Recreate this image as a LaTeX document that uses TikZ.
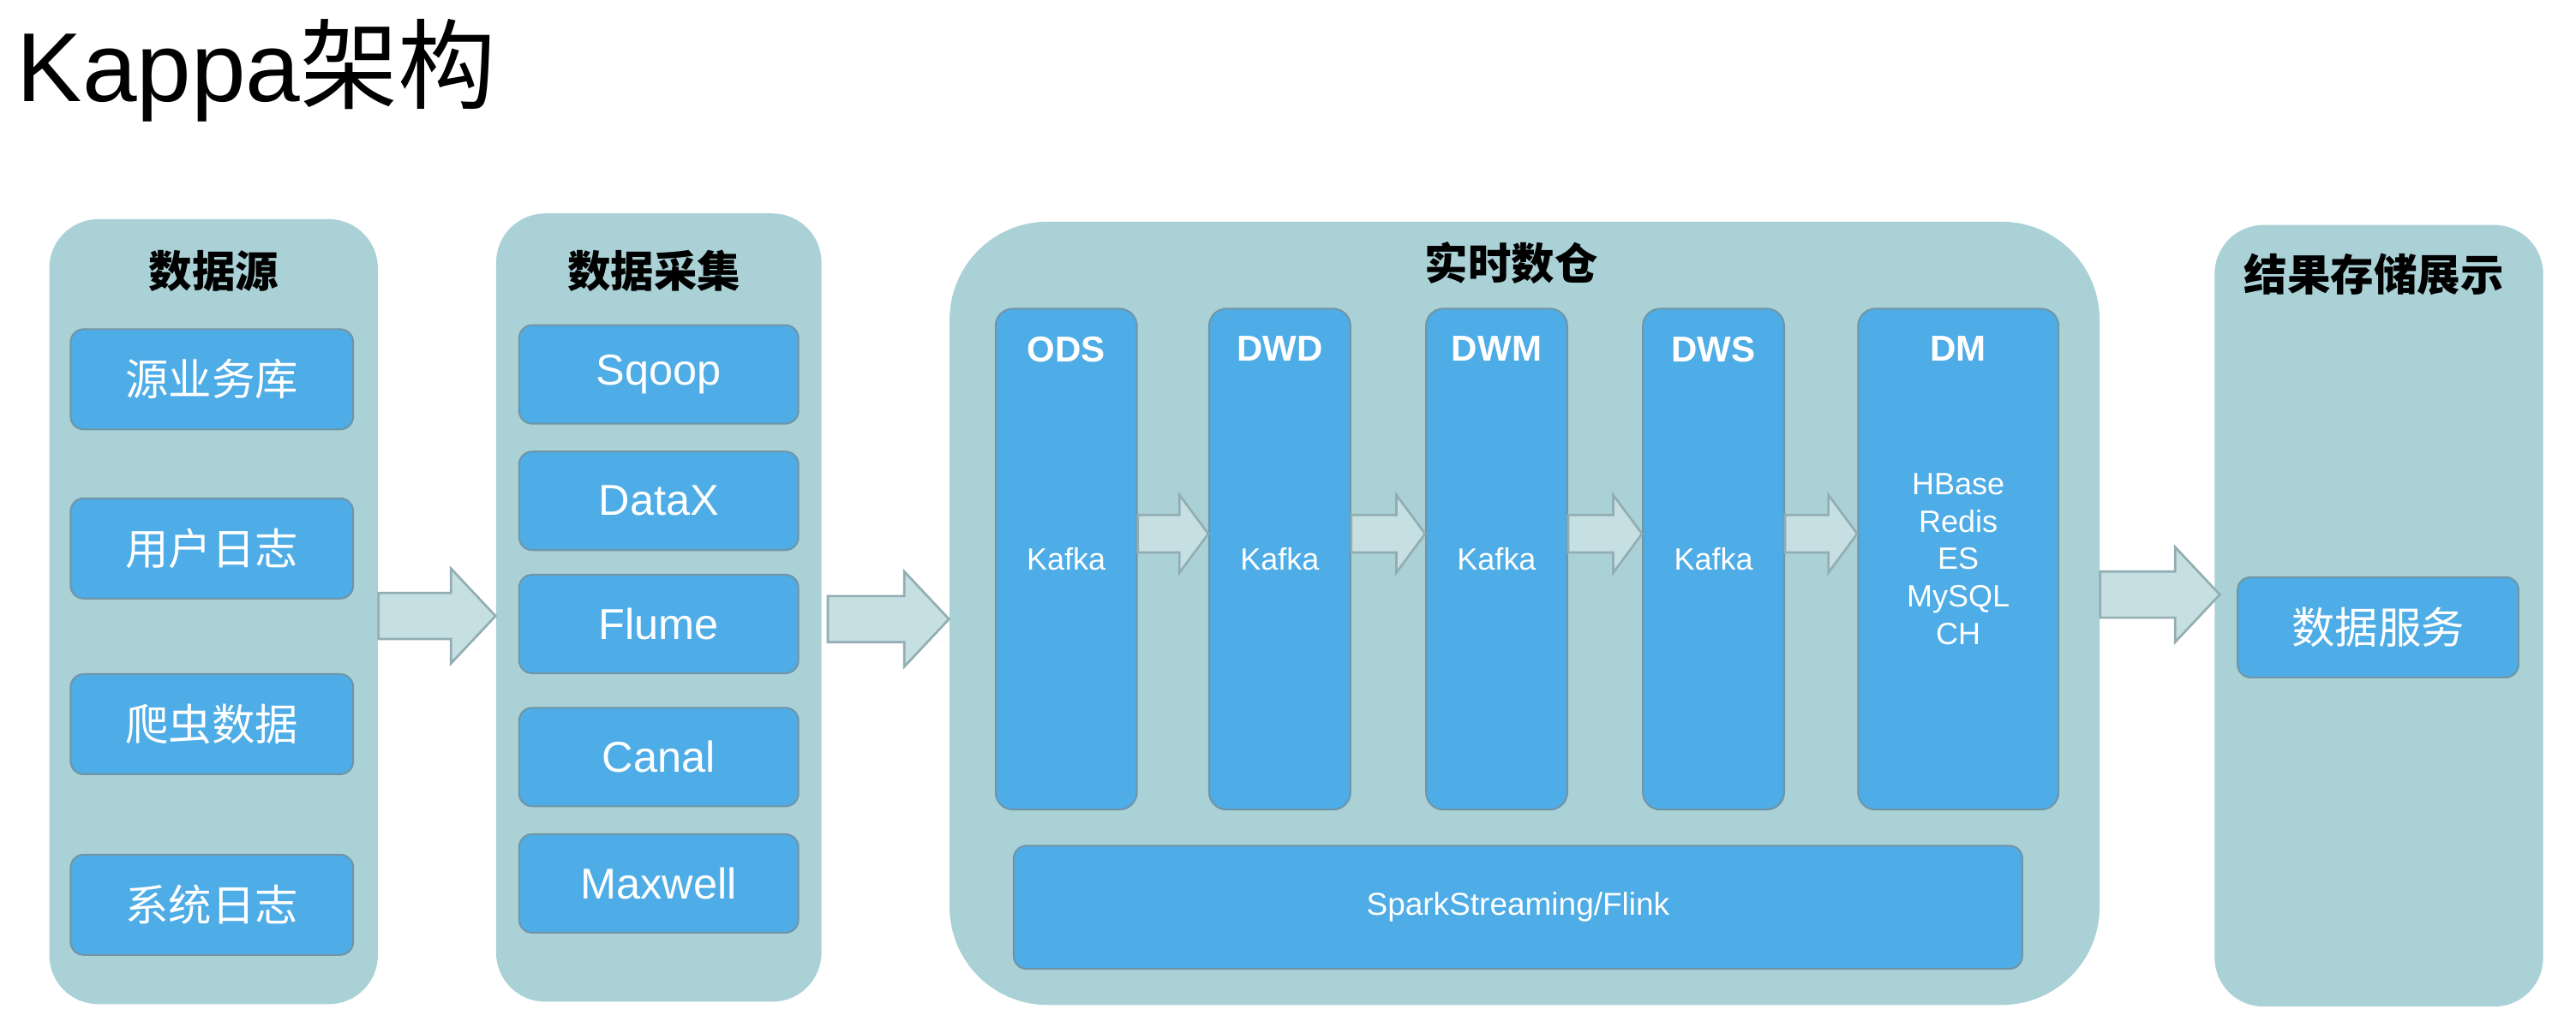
\documentclass[tikz,border=0pt]{standalone}
\usepackage{fontspec}
\setmainfont{Liberation Sans}
\newfontfamily\cjk{Noto Sans CJK SC}
\usepackage{tikz}
\usetikzlibrary{positioning, calc}
\definecolor{panel_teal}{HTML}{AAD1D6}
\definecolor{box_blue}{HTML}{4EACE6}
\definecolor{box_edge}{HTML}{7095A6}
\definecolor{flow_fill}{HTML}{C6DFE3}
\definecolor{flow_edge}{HTML}{93AEB3}
\newcommand{\upx}{0.57pt}
\tikzset{
  panel/.style={rectangle,rounded corners=17pt,fill=panel_teal,minimum width=200*\upx,minimum height=478*\upx,inner sep=0},
  panel_l/.style={panel,rounded corners=34pt,minimum width=700*\upx},
  head/.style={inner sep=0,font=\cjk\bfseries\fontsize{15}{18}\selectfont},
  item/.style={rectangle,rounded corners=4.5pt,fill=box_blue,draw=box_edge,line width=0.6pt,text=white,minimum width=172*\upx,minimum height=61*\upx,font=\fontsize{15}{18}\selectfont},
  item_cn/.style={item,font=\cjk\fontsize{15}{18}\selectfont},
  layer/.style={item,minimum width=86*\upx,minimum height=305*\upx,rounded corners=6pt,align=center,font=\fontsize{10.7}{13}\selectfont},
  layer_t/.style={inner sep=0,text=white,font=\bfseries\fontsize{12.5}{15}\selectfont},
  fatflow/.style n args={3}{draw=flow_edge,fill=flow_fill,line width=0.8pt,
    to path={let \p1=(\tikztostart), \p2=(\tikztotarget) in
      (\x1,\y1+#1) -- (\x2-#3,\y1+#1) -- (\x2-#3,\y1+#2) -- (\x2,\y1)
      -- (\x2-#3,\y1-#2) -- (\x2-#3,\y1-#1) -- (\x1,\y1-#1) -- cycle}},
  flow/.style={fatflow={8pt}{16.5pt}{15.5pt}},
  flowxs/.style={fatflow={6.5pt}{13.5pt}{10pt}},
}

\begin{document}
\begin{tikzpicture}[x=\upx,y=-\upx]
  \useasboundingbox (0,0) rectangle (1568,618);
  \node[anchor=base west,inner sep=0,font=\fontsize{34}{40}\selectfont] (title) at (10,62) {Kappa{\cjk 架构}};

  \node[panel] (src) at (130,372.5) {};
  \node[panel,minimum width=198*\upx,minimum height=480*\upx] (acq) at (401,370) {};
  \node[panel_l,minimum height=477*\upx] (dw) at (928,373.5) {};
  \node[panel,minimum height=476*\upx] (res) at (1448,375) {};

  \node[head] (src_t) at (130,165) {数据源};
  \node[head] (acq_t) at (398,165) {数据采集};
  \node[head] (dw_t) at (920,160) {实时数仓};
  \node[head] (res_t) at (1445,167) {结果存储展示};

  % data sources
  \node[item_cn] (db) at (129,231) {源业务库};
  \node[item_cn] (userlog) at (129,334) {用户日志};
  \node[item_cn] (crawl) at (129,441) {爬虫数据};
  \node[item_cn] (syslog) at (129,551) {系统日志};

  % collection
  \node[item,minimum width=170*\upx,minimum height=60*\upx] (sqoop) at (401,228) {Sqoop};
  \node[item,minimum width=170*\upx,minimum height=60*\upx] (datax) at (401,305) {DataX};
  \node[item,minimum width=170*\upx,minimum height=60*\upx] (flume) at (401,380) {Flume};
  \node[item,minimum width=170*\upx,minimum height=60*\upx] (canal) at (401,461) {Canal};
  \node[item,minimum width=170*\upx,minimum height=60*\upx] (maxwell) at (401,538) {Maxwell};

  % realtime warehouse layers
  \node[layer] (ods) at (649,340.5) {Kafka};
  \node[layer] (dwd) at (779,340.5) {Kafka};
  \node[layer] (dwm) at (911,340.5) {Kafka};
  \node[layer] (dws) at (1043,340.5) {Kafka};
  \node[layer,minimum width=122*\upx] (dm) at (1192,340.5) {HBase\\Redis\\ES\\MySQL\\CH};
  \foreach \n/\t in {ods/ODS,dwd/DWD,dwm/DWM,dws/DWS,dm/DM}
    \node[layer_t,below=9.7pt of \n.north] (\n_t) {\t};
  \node[item,minimum width=614*\upx,minimum height=75*\upx,font=\fontsize{11}{13}\selectfont] (engine) at (924,552.5) {SparkStreaming/Flink};

  \node[item_cn,minimum width=171*\upx] (svc) at (1447.5,382) {数据服务};

  \draw[flow] ([yshift=-1.5pt]src.east) to (acq.west);
  \draw[flow] ([shift={(2pt,-4pt)}]acq.east) to (dw.west);
  \draw[flow] ([yshift=6.5pt]dw.east) to ([xshift=2pt]res.west);
  \foreach \a/\b in {ods/dwd,dwd/dwm,dwm/dws,dws/dm}
    \draw[flowxs] ([yshift=8.8pt]\a.east) to (\b.west);
\end{tikzpicture}
\end{document}
